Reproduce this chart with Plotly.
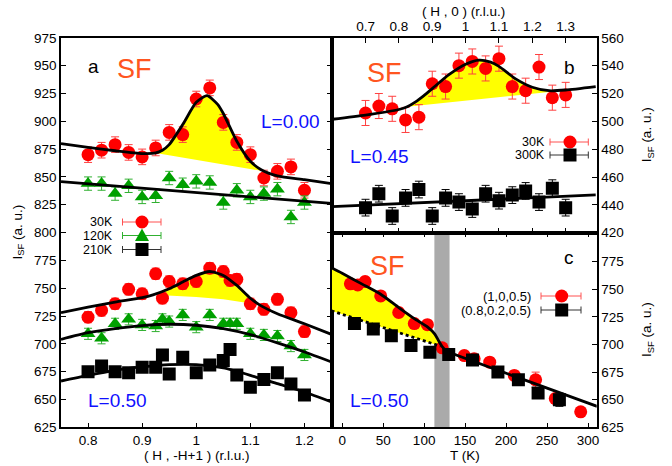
import plotly.graph_objects as go

W, H = 672, 466

# ---------------- Panel a : (H, -H+1) scans ----------------
a0_H = [0.8, 0.825, 0.85, 0.875, 0.9, 0.925, 0.95, 0.975, 1.0, 1.025, 1.05, 1.075, 1.1, 1.125, 1.15, 1.175, 1.2]
a0_I_30K = [870, 874, 879, 872, 868, 876, 890, 888, 920, 930, 899, 881, 870, 849, 855, 859, 838]
a0_E_30K = [7, 7, 7, 7, 7, 7, 7, 7, 7, 7, 7, 7, 7, 7, 7, 7, 7]
a0_I_120K = [844, 844, 835, 842, 832, 833, 849, 843, 846, 845, 827, 838, 832, 835, 839, 814, 827]
a0_E_120K = [6, 6, 6, 6, 6, 6, 6, 6, 6, 6, 6, 6, 6, 6, 6, 6, 6]

a5_H = [0.8, 0.825, 0.85, 0.875, 0.9, 0.925, 0.9375, 0.95, 0.975, 1.0, 1.025, 1.05, 1.0625, 1.075, 1.1, 1.125, 1.15, 1.175, 1.2]
a5_I_30K = [724, 730, 736, 749, 745, 763, 741, 756, 754, 756, 768, 765, 757, 758, 736, 731, 740, 728, 711]
a5_E_30K = [5, 5, 5, 5, 5, 5, 5, 5, 5, 5, 5, 5, 5, 5, 5, 5, 5, 5, 5]
a5_I_120K = [709, 705, 718, 722, 717, 716, 722, 720, 726, 715, 726, 718, 718, 718, 709, 708, 707, 698, 690]
a5_E_120K = [5, 5, 5, 5, 5, 5, 5, 5, 5, 5, 5, 5, 5, 5, 5, 5, 5, 5, 5]
a5_I_210K = [675, 680, 675, 674, 679, 679, 690, 673, 688, 674, 681, 685, 695, 672, 661, 668, 674, 664, 654]
a5_E_210K = [4, 4, 4, 4, 4, 4, 4, 4, 4, 4, 4, 4, 4, 4, 4, 4, 4, 4, 4]

# fit curves
a0_fit30_H = [0.75, 0.8, 0.85, 0.9, 0.925, 0.9375, 0.95, 0.975, 1.0, 1.02, 1.04, 1.05, 1.075, 1.1, 1.12, 1.15, 1.2, 1.25]
a0_fit30_I = [880, 876.5, 873.5, 871, 871.5, 874, 879, 897, 917, 923, 915, 907, 882, 864, 856.5, 851, 847.5, 844]
a0_base_H = [0.925, 1.12]
a0_base_I = [871.5, 855.5]
a0_fit120_H = [0.75, 1.25]
a0_fit120_I = [845.7, 826.2]

a5_fit30_H = [0.75, 0.8, 0.85, 0.9, 0.92, 0.95, 0.975, 1.0, 1.025, 1.05, 1.075, 1.1, 1.117, 1.15, 1.2, 1.25]
a5_fit30_I = [728, 733, 737.5, 741.5, 744, 749.5, 755.5, 761.5, 765, 761.5, 752.5, 741, 735, 727, 718, 708.5]
a5_base_H = [0.92, 0.95, 1.0, 1.05, 1.09, 1.117]
a5_base_I = [744, 743.5, 742, 740, 737, 735]
a5_fitT_H = [0.75, 0.8, 0.85, 0.9, 0.95, 1.0, 1.05, 1.1, 1.15, 1.2, 1.25]
a5_fit120_I = [704, 710, 713.7, 716.4, 717.6, 716.7, 713.7, 708.3, 700.8, 692.7, 683.7]
a5_fit210_I = [666.6, 671.7, 676.2, 679.2, 681.3, 681.3, 678.3, 671.7, 664.2, 656.7, 647.7]

# ---------------- Panel b : (H, 0) scan, L = 0.45 ----------------
b_H = [0.70, 0.74, 0.78, 0.82, 0.86, 0.90, 0.94, 0.98, 1.02, 1.06, 1.10, 1.14, 1.18, 1.22, 1.26, 1.30]
b_I_30K = [506, 511, 509, 501, 503, 527, 525, 540, 543, 538, 545, 525, 522, 539, 517, 519]
b_E_30K = [9, 9, 9, 9, 9, 9, 9, 9, 9, 9, 9, 9, 9, 9, 9, 9]
b_I_300K = [438, 448, 432, 445, 451, 432, 445, 442, 437, 448, 443, 447, 450, 442, 452, 438]
b_E_300K = [6, 6, 6, 6, 6, 6, 6, 6, 6, 6, 6, 6, 6, 6, 6, 6]

b_fit30_H = [0.6, 0.7, 0.8, 0.825, 0.85, 0.875, 0.9, 0.95, 1.0, 1.04, 1.075, 1.1, 1.15, 1.2, 1.25, 1.3, 1.39]
b_fit30_I = [501.5, 504.5, 508.5, 510.5, 514, 518.5, 523.5, 533.5, 541, 544, 542.5, 539.5, 530.5, 524.5, 522, 522.5, 525]
b_base_H = [0.825, 1.25]
b_base_I = [510.5, 521]
b_fit300_H = [0.6, 1.39]
b_fit300_I = [438.7, 447.1]

# ---------------- Panel c : temperature dependence, L = 0.50 ----------------
c_T_A = [10, 19, 28, 47, 69, 88, 104, 122, 149, 161, 180, 210, 236, 260, 291]
c_I_A = [755, 754, 757, 744, 729, 719, 718, 697, 690, 687, 684, 672, 668, 651, 639]
c_E_A = [4, 4, 4, 4, 4, 4, 4, 4, 4, 4, 4, 4, 7, 4, 4]
c_T_B = [15, 38, 60, 84, 107, 130, 159, 190, 215, 239, 265]
c_I_B = [719, 714, 708, 699, 693, 691, 686, 675, 668, 656, 650]
c_E_B = [4, 4, 4, 4, 4, 4, 4, 4, 4, 4, 6]

c_fit_T = [-13, 0, 25, 47, 69, 88, 104, 113, 118, 122, 127, 132, 200, 250, 311]
c_fit_I = [769.5, 764.5, 754.5, 745.5, 733.5, 723.5, 716, 709.5, 703, 698, 694.5, 692.5, 674, 660.5, 644]
c_dot_T = [-13, 120]
c_dot_I = [730.5, 698.5]
c_band_T = [112.5, 131]

RED = "#ff0000"
GREEN = "#00a000"
BLACK = "#000000"
YELLOW = "#ffff00"
SFC = "#ff5520"
BLUE = "#1010ff"
FONT = "Liberation Sans"


def px_x(px):
    return px / W


def px_y(py):
    return 1 - py / H


fig = go.Figure()


def fill(xs_up, ys_up, xs_lo, ys_lo, xa, ya):
    xs = list(xs_up) + list(reversed(xs_lo))
    ys = list(ys_up) + list(reversed(ys_lo))
    fig.add_trace(go.Scatter(x=xs, y=ys, mode="lines", fill="toself", fillcolor=YELLOW,
                             line=dict(width=0, color=YELLOW), hoverinfo="skip",
                             xaxis=xa, yaxis=ya, showlegend=False))


def seg(xs, ys, lo, hi):
    pts = [(x, y) for x, y in zip(xs, ys) if lo - 1e-9 <= x <= hi + 1e-9]
    return [p[0] for p in pts], [p[1] for p in pts]


# yellow areas
ux, uy = seg(a0_fit30_H, a0_fit30_I, a0_base_H[0], a0_base_H[-1])
fill(ux, uy, a0_base_H, a0_base_I, "x", "y")
ux, uy = seg(a5_fit30_H, a5_fit30_I, a5_base_H[0], a5_base_H[-1])
fill(ux, uy, a5_base_H, a5_base_I, "x", "y")
ux, uy = seg(b_fit30_H, b_fit30_I, b_base_H[0], b_base_H[-1])
fill(ux, uy, b_base_H, b_base_I, "x2", "y2")
ux, uy = seg(c_fit_T, c_fit_I, c_dot_T[0], 118)
fill(ux + [c_dot_T[-1]], uy + [c_dot_I[-1]], c_dot_T[:1], c_dot_I[:1], "x3", "y3")


def data(x, y, e, color, symbol, xa, ya, ecolor=None):
    fig.add_trace(go.Scatter(
        x=x, y=y, mode="markers",
        marker=dict(color=color, symbol=symbol, size=13, line=dict(width=0)),
        error_y=dict(type="data", array=e, color=ecolor or color, thickness=1, width=4),
        xaxis=xa, yaxis=ya, showlegend=False))


def line(x, y, xa, ya, dash="solid"):
    fig.add_trace(go.Scatter(x=x, y=y, mode="lines",
                             line=dict(color=BLACK, width=2.8, shape="spline", smoothing=0.6, dash=dash),
                             xaxis=xa, yaxis=ya, showlegend=False, hoverinfo="skip"))


data(a0_H, a0_I_30K, a0_E_30K, RED, "circle", "x", "y", "#ff4040")
data(a0_H, a0_I_120K, a0_E_120K, GREEN, "triangle-up", "x", "y", "#30b030")
data(a5_H, a5_I_30K, a5_E_30K, RED, "circle", "x", "y", "#ff4040")
data(a5_H, a5_I_120K, a5_E_120K, GREEN, "triangle-up", "x", "y", "#30b030")
data(a5_H, a5_I_210K, a5_E_210K, BLACK, "square", "x", "y")
data(b_H, b_I_30K, b_E_30K, RED, "circle", "x2", "y2", "#ff4040")
data(b_H, b_I_300K, b_E_300K, BLACK, "square", "x2", "y2")
data(c_T_A, c_I_A, c_E_A, RED, "circle", "x3", "y3", "#ff4040")
data(c_T_B, c_I_B, c_E_B, BLACK, "square", "x3", "y3")

line(a0_fit30_H, a0_fit30_I, "x", "y")
line(a0_fit120_H, a0_fit120_I, "x", "y")
line(a5_fit30_H, a5_fit30_I, "x", "y")
line(a5_fitT_H, a5_fit120_I, "x", "y")
line(a5_fitT_H, a5_fit210_I, "x", "y")
line(b_fit30_H, b_fit30_I, "x2", "y2")
line(b_fit300_H, b_fit300_I, "x2", "y2")
line(c_fit_T, c_fit_I, "x3", "y3")
line(c_dot_T, c_dot_I, "x3", "y3", dash="dot")

# ---------- layout ----------
XA = [61 / W, 331.5 / W]
XB = [331.5 / W, 596.7 / W]
Y_TOP = px_y(37.8)
Y_MID = px_y(232.7)
Y_BOT = px_y(427.3)

tickfont = dict(family=FONT, size=13.5, color="black")
common = dict(showgrid=False, zeroline=False, showline=True, linecolor="black", linewidth=1.5,
              ticks="inside", ticklen=5, tickwidth=1, tickcolor="black", tickfont=tickfont,
              automargin=False)

fig.update_layout(
    width=W, height=H, margin=dict(l=0, r=0, t=0, b=0, autoexpand=False),
    paper_bgcolor="white", plot_bgcolor="white",
    xaxis=dict(domain=XA, range=[0.75, 1.25], tickvals=[0.8, 0.9, 1.0, 1.1, 1.2],
               anchor="y", mirror=True, **common),
    yaxis=dict(domain=[Y_BOT, Y_TOP], range=[625, 975], tick0=625, dtick=25,
               anchor="x", mirror="ticks", **common),
    xaxis2=dict(domain=XB, range=[0.598, 1.393], tickvals=[0.7, 0.8, 0.9, 1.0, 1.1, 1.2, 1.3],
                side="top", anchor="y2", mirror="ticks", **common),
    yaxis2=dict(domain=[Y_MID, Y_TOP], range=[420, 560], tick0=420, dtick=20,
                side="right", anchor="x2", mirror=True, **common),
    xaxis3=dict(domain=XB, range=[-13, 310.5], tickvals=[0, 50, 100, 150, 200, 250, 300],
                anchor="y3", mirror="ticks", **common),
    yaxis3=dict(domain=[Y_BOT, Y_MID], range=[625, 801.3],
                tickvals=[625, 650, 675, 700, 725, 750, 775],
                side="right", anchor="x3", mirror=True, **common),
)

# grey transition band in panel c
fig.add_shape(type="rect", xref="x3", yref="y3 domain", x0=c_band_T[0], x1=c_band_T[1], y0=0, y1=1,
              fillcolor="#aaaaaa", line=dict(width=0), layer="below")

ann = []


def text(t, px, py, size, color="black", xanchor="center", angle=0):
    ann.append(dict(text=t, x=px_x(px), y=px_y(py), xref="paper", yref="paper",
                    xanchor=xanchor, yanchor="middle", showarrow=False, textangle=angle,
                    font=dict(family=FONT, size=size, color=color)))


# panel labels
text("a", 93.7, 66.4, 19)
text("SF", 134, 69.4, 27, SFC)
text("L=0.00", 290.5, 121.9, 19, BLUE)
text("L=0.50", 118, 400, 19, BLUE)
text("SF", 384, 72.8, 27, SFC)
text("b", 569.5, 67, 19)
text("L=0.45", 379, 156.9, 19, BLUE)
text("SF", 388, 266, 27, SFC)
text("c", 569, 257, 19)
text("L=0.50", 379, 400, 19, BLUE)

# axis titles
text("( H , -H+1 ) (r.l.u.)", 196.5, 455, 13.5)
text("( H , 0 ) (r.l.u.)", 463, 11.5, 13.5)
text("T (K)", 465, 455, 13.5)
text("I<sub>SF</sub> (a. u.)", 18, 232.5, 13.5, angle=-90)
text("I<sub>SF</sub> (a. u.)", 647, 135.2, 13.5, angle=-90)
text("I<sub>SF</sub> (a. u.)", 647, 330, 13.5, angle=-90)

# legends (gnuplot style: label, then error-bar sample with symbol)
shapes = []


def legend(label, ytxt, xr, x0, x1, xm, color, lcolor, kind, fs):
    text(label, xr, ytxt, fs, xanchor="right")
    yy = px_y(ytxt)
    shapes.append(dict(type="line", xref="paper", yref="paper", x0=px_x(x0), x1=px_x(x1), y0=yy, y1=yy,
                       line=dict(color=lcolor, width=1)))
    for xc in (x0, x1):
        shapes.append(dict(type="line", xref="paper", yref="paper", x0=px_x(xc), x1=px_x(xc),
                           y0=px_y(ytxt - 3.5), y1=px_y(ytxt + 3.5), line=dict(color=lcolor, width=1)))
    r = 6.5
    if kind == "circle":
        shapes.append(dict(type="circle", xref="paper", yref="paper", x0=px_x(xm - r), x1=px_x(xm + r),
                           y0=px_y(ytxt + r), y1=px_y(ytxt - r), fillcolor=color, line=dict(width=0)))
    elif kind == "square":
        shapes.append(dict(type="rect", xref="paper", yref="paper", x0=px_x(xm - r), x1=px_x(xm + r),
                           y0=px_y(ytxt + r), y1=px_y(ytxt - r), fillcolor=color, line=dict(width=0)))
    else:
        path = "M {},{} L {},{} L {},{} Z".format(px_x(xm - 7), px_y(ytxt + 5.5), px_x(xm + 7), px_y(ytxt + 5.5),
                                                  px_x(xm), px_y(ytxt - 7))
        shapes.append(dict(type="path", xref="paper", yref="paper", path=path, fillcolor=color,
                           line=dict(width=0)))


legend("30K", 222, 115, 122.5, 161, 142, RED, "#ff5050", "circle", 12.5)
legend("120K", 235.5, 115, 122.5, 161, 142, GREEN, "#30b030", "triangle", 12.5)
legend("210K", 249.5, 115, 122.5, 161, 142, BLACK, "#333333", "square", 12.5)
legend("30K", 142, 546.7, 550, 588.3, 570, RED, "#ff5050", "circle", 12.5)
legend("300K", 155, 546.7, 550, 588.3, 570, BLACK, "#333333", "square", 12.5)
legend("(1,0,0.5)", 296, 532.7, 541, 581, 561.7, RED, "#ff5050", "circle", 13)
legend("(0.8,0.2,0.5)", 310, 532.7, 541, 581, 561.7, BLACK, "#333333", "square", 13)

fig.update_layout(annotations=ann)
for s in shapes:
    fig.add_shape(**s)

fig.write_html("out.html", config={"displayModeBar": False},
               post_script="document.body.style.margin='0px';document.body.style.overflow='hidden';")
